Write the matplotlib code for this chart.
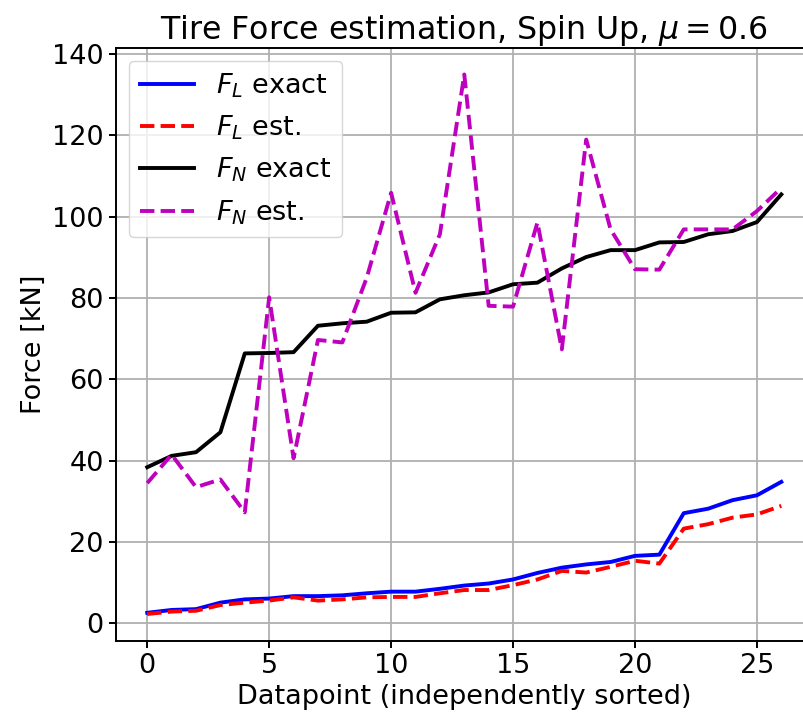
import numpy as np
import matplotlib
matplotlib.use("Agg")
import matplotlib.pyplot as plt

# values (kN), one per datapoint
datapoint = np.arange(27)
fl_exact = [2.6, 3.3, 3.5, 5.1, 5.9, 6.1, 6.7, 6.7, 6.9, 7.4, 7.8, 7.8, 8.5,
            9.3, 9.8, 10.8, 12.4, 13.7, 14.5, 15.1, 16.6, 16.9, 27.1, 28.2,
            30.3, 31.5, 34.8]
fl_est = [2.3, 2.9, 3.1, 4.5, 5.1, 5.6, 6.4, 5.6, 5.9, 6.4, 6.5, 6.5, 7.4,
          8.2, 8.2, 9.4, 10.8, 12.9, 12.5, 13.9, 15.4, 14.7, 23.3, 24.4,
          26.0, 26.8, 28.9]
fn_exact = [38.4, 41.2, 42.1, 47.0, 66.4, 66.5, 66.7, 73.2, 73.8, 74.2, 76.4,
            76.5, 79.7, 80.7, 81.4, 83.4, 83.8, 87.3, 90.1, 91.8, 91.8, 93.7,
            93.8, 95.7, 96.5, 98.7, 105.5]
fn_est = [34.5, 41.5, 33.5, 35.4, 27.3, 80.2, 40.6, 69.7, 69.1, 85.0, 105.9,
          81.3, 95.7, 135.0, 78.1, 77.9, 98.6, 67.4, 119.0, 96.9, 87.1, 87.0,
          96.9, 96.9, 96.9, 101.4, 107.1]

fig = plt.figure(figsize=(8.04, 7.22), dpi=100)
ax = fig.add_axes([0.1437, 0.1122, 0.8675, 0.822])

lw = 2.8
ax.plot(datapoint, fl_exact, 'b', lw=lw, label=r'$F_L$ exact')
ax.plot(datapoint, fl_est, 'r--', lw=lw, label=r'$F_L$ est.')
ax.plot(datapoint, fn_exact, 'k', lw=lw, label=r'$F_N$ exact')
ax.plot(datapoint, fn_est, 'm--', lw=lw, label=r'$F_N$ est.')

ax.grid(True, color='#b0b0b0', lw=1.3)
ax.set_axisbelow(True)
for sp in ax.spines.values():
    sp.set_linewidth(1.4)
ax.tick_params(labelsize=19.5, length=5, width=1.4)

ax.set_xlabel('Datapoint (independently sorted)', fontsize=19.5)
ax.set_ylabel('Force [kN]', fontsize=19.5)
ax.set_title(r'Tire Force estimation, Spin Up, $\mu = 0.6$', fontsize=22.8)
ax.legend(loc='upper left', fontsize=19.5)

fig.savefig('out.png', dpi=100)
